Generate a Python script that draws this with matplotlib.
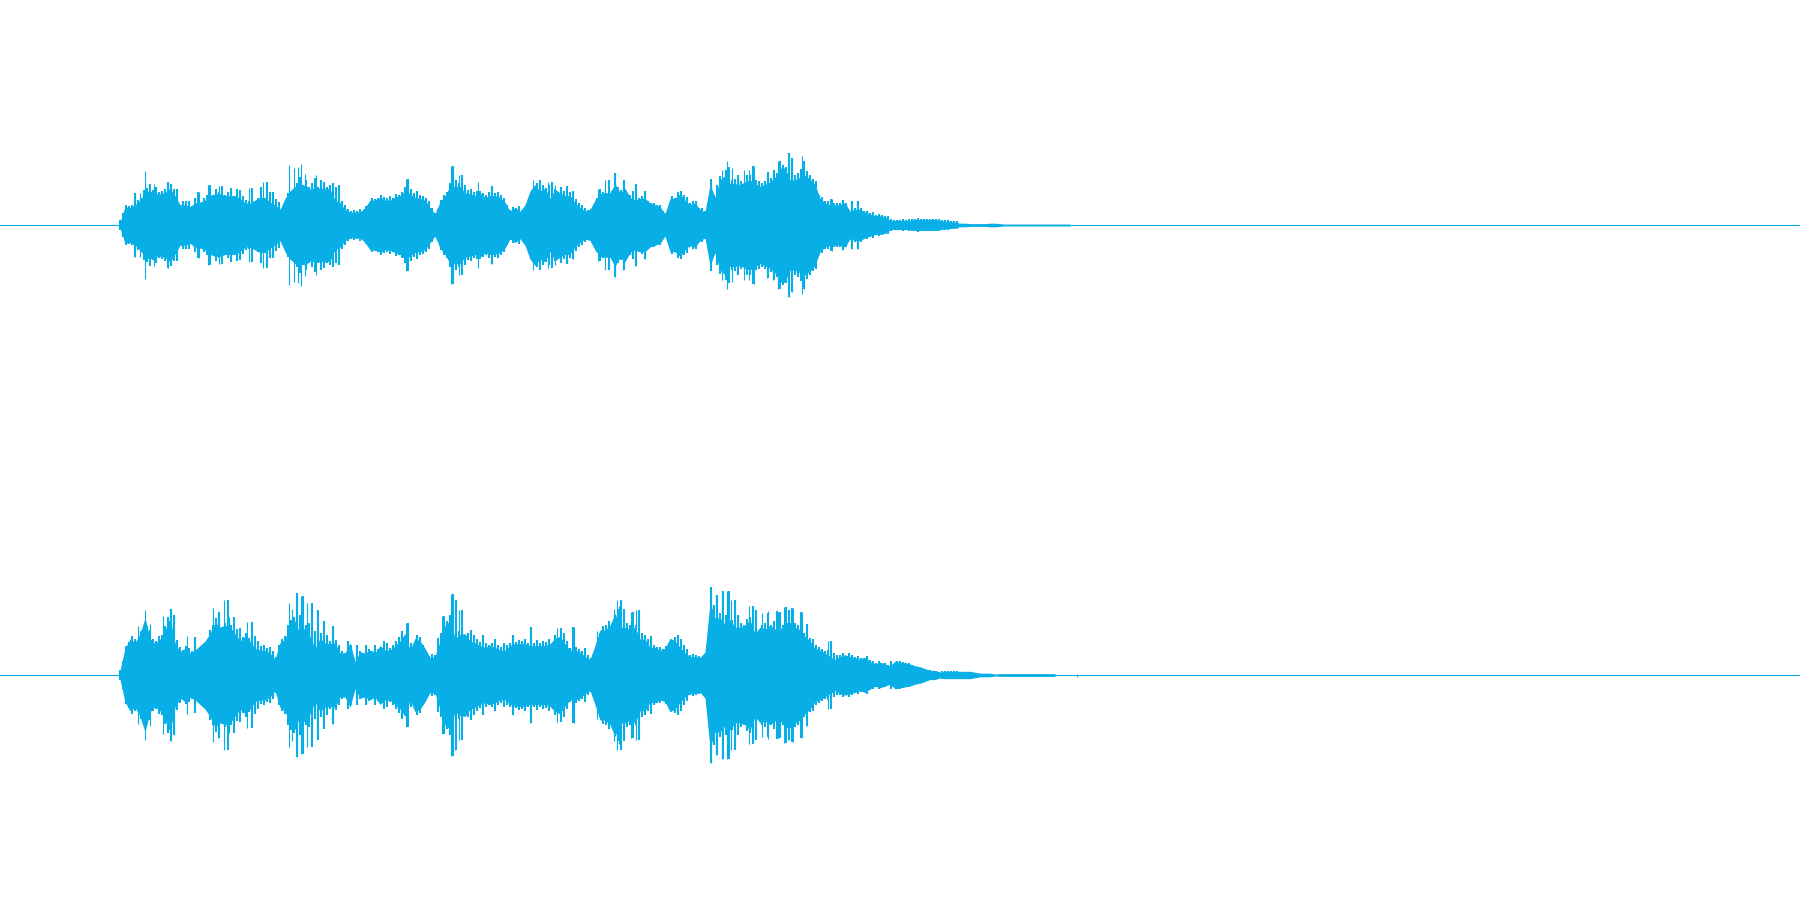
import matplotlib
matplotlib.use("Agg")
import matplotlib.pyplot as plt
import numpy as np

# waveform levels, one value every 5 time units from t=120
left_peaks = [3, 20, 19, 22, 27, 35, 37, 34, 34, 35, 40, 32, 22, 22, 20, 24, 25, 27, 32, 34, 34, 32, 32, 32, 29,
              24, 24, 27, 30, 30, 25, 22, 17, 29, 37, 42, 40, 44, 39, 40, 40, 40, 39, 27, 24, 17, 14, 14, 14, 19,
              27, 27, 30, 27, 27, 30, 32, 37, 34, 30, 29, 27, 19, 12, 25, 32, 42, 42, 42, 35, 34, 32, 35, 30, 32,
              32, 30, 25, 15, 19, 15, 22, 37, 44, 37, 40, 29, 39, 35, 32, 32, 24, 19, 15, 17, 27,
              34, 35, 35, 45, 35, 40, 30, 27, 29, 29, 24, 22, 20, 12, 29, 29, 34, 27, 22, 24, 17, 14, 44, 30,
              49, 54, 45, 45, 44, 47, 49, 45, 42, 44, 47, 52, 62, 62, 49, 49, 52, 54, 50, 44, 29, 24, 22, 22, 22,
              24, 15, 17, 17, 14, 12, 10, 10, 9, 5, 5, 5, 5, 5, 6, 6, 6, 6, 6, 5, 4, 4, 3, 2, 2, 1.5, 1.5, 1.5,
              1.5, 2, 2, 1.5, 1, 1, 1, 1, 1, 1, 1, 1, 1, 1, 1, 1, 1, 1]
right_peaks = [5, 29, 39, 35, 45, 62, 40, 34, 39, 49, 62, 35, 25, 29, 24, 27, 32, 37, 45, 57, 52, 54, 52, 45, 37,
               42, 37, 29, 27, 27, 24, 17, 35, 39, 55, 59, 44, 52, 42, 29, 40, 35, 34, 35, 24, 24, 35, 15, 25, 24,
               27, 24, 32, 27, 27, 32, 37, 45, 27, 40, 37, 29, 19, 20, 37, 54, 59, 40, 44, 45, 37, 35, 32, 30, 32,
               30, 27, 27, 32, 34, 34, 34, 32, 32, 32, 32, 34, 40, 42, 34, 27, 27, 25, 20, 17, 32,
               49, 49, 54, 67, 52, 52, 49, 52, 39, 39, 30, 30, 27, 29, 40, 37, 30, 24, 20, 20, 19, 25, 79, 62,
               62, 55, 60, 52, 52, 54, 60, 45, 52, 50, 54, 50, 49, 57, 57, 52, 49, 42, 37, 29, 27, 24, 20, 17, 20,
               22, 20, 19, 17, 19, 15, 12, 14, 12, 10, 15, 14, 13, 12, 10, 9, 7, 5, 5, 3, 4, 4, 4, 4, 4, 4, 3, 2,
               2, 2, 1, 1.5, 1.5, 1.5, 1.5, 1.5, 1.5, 1.5, 1.5, 1.5, 1.5, 1.5, 1.5]

# finer jagged tops, one value every 3 time units from t=120
left_fine = [5, 12, 20, 19, 20, 32, 25, 27, 35, 37,
             41, 35, 38, 33, 34, 36, 43, 41, 36, 36,
             18, 24, 24, 24, 19, 27, 33, 22, 27, 30,
             40, 30, 36, 33, 39, 30, 33, 37, 27, 36,
             35, 29, 25, 24, 37, 16, 27, 38, 27, 43,
             33, 33, 26, 23, 16, 19, 32, 27, 36, 42,
             48, 40, 45, 38, 42, 47, 38, 45, 43, 38,
             40, 42, 38, 40, 24, 20, 16, 14, 15, 14,
             16, 14, 19, 16, 27, 26, 27, 30, 28, 27,
             29, 27, 31, 30, 33, 38, 46, 36, 32, 34,
             30, 29, 27, 24, 17, 12, 16, 25, 30, 33,
             42, 59, 45, 42, 50, 40, 35, 36, 33, 34,
             34, 32, 30, 33, 39, 32, 33, 30, 27, 20,
             15, 18, 17, 19, 14, 17, 22, 32, 38, 42,
             45, 40, 37, 40, 43, 36, 29, 38, 34, 39,
             33, 34, 26, 22, 20, 17, 15, 16, 18, 27,
             36, 33, 32, 45, 34, 52, 38, 35, 45, 32,
             30, 34, 41, 27, 29, 34, 24, 22, 22, 20,
             20, 14, 12, 18, 29, 27, 33, 34, 30, 28,
             22, 24, 24, 17, 17, 14, 22, 46, 30, 40,
             49, 42, 55, 58, 45, 46, 50, 44, 40, 50,
             50, 59, 45, 44, 42, 44, 53, 47, 55, 52,
             64, 60, 58, 72, 67, 50, 52, 56, 64, 54,
             50, 46, 44, 30, 28, 24, 24, 26, 22, 22,
             22, 25, 22, 15, 24, 17, 24, 17, 14, 14,
             12, 13, 10, 11, 10, 9, 9, 6, 5, 5,
             5, 6, 5, 6, 6, 6, 7, 6, 6, 6,
             6, 6, 6, 6, 5, 5, 5, 4, 4, 4]
right_fine = [5, 14, 29, 33, 39, 36, 35, 44, 40, 49,
              45, 36, 34, 39, 40, 49, 58, 66, 60, 35,
              28, 25, 29, 27, 24, 38, 24, 27, 30, 33,
              45, 50, 57, 63, 48, 52, 75, 50, 58, 46,
              47, 38, 42, 37, 53, 39, 34, 29, 30, 27,
              28, 24, 18, 30, 36, 39, 50, 55, 58, 82,
              60, 79, 50, 52, 72, 44, 65, 42, 54, 40,
              34, 49, 35, 30, 24, 22, 34, 30, 17, 30,
              24, 22, 30, 26, 24, 30, 26, 28, 34, 32,
              27, 30, 34, 38, 44, 37, 52, 32, 28, 40,
              38, 30, 24, 19, 21, 20, 37, 42, 59, 54,
              60, 81, 75, 44, 65, 38, 42, 45, 40, 36,
              33, 40, 32, 30, 32, 36, 30, 28, 32, 30,
              32, 40, 33, 35, 34, 36, 32, 48, 32, 35,
              32, 34, 33, 36, 31, 40, 37, 47, 42, 34,
              27, 48, 28, 26, 24, 27, 20, 17, 22, 32,
              42, 49, 50, 54, 48, 60, 66, 75, 66, 52,
              50, 63, 50, 65, 42, 40, 36, 39, 30, 28,
              28, 26, 29, 24, 34, 38, 40, 36, 30, 26,
              20, 21, 20, 19, 18, 19, 24, 88, 70, 80,
              62, 84, 60, 84, 55, 75, 60, 52, 50, 56,
              58, 69, 65, 45, 50, 52, 62, 50, 54, 64,
              63, 50, 68, 65, 67, 52, 50, 63, 42, 51,
              37, 36, 30, 28, 26, 24, 25, 34, 22, 20,
              20, 22, 19, 22, 20, 18, 19, 17, 17, 19,
              15, 14, 12, 14, 12, 12, 10, 14, 11, 14,
              14, 13, 12, 12, 10, 9, 8, 7, 6, 5,
              5, 4, 4, 3, 4, 4, 4, 4, 4, 4]

# isolated tall peaks
left_spike_t = [135, 140, 145, 154, 168, 199, 208, 219, 249, 263, 289, 294, 298, 301, 305, 316, 406, 451, 453, 459,
                478, 492, 533, 548, 555, 573, 598, 605, 615, 623, 635, 645, 722, 727, 732, 744, 749, 754, 767, 773,
                778, 789, 792, 802, 804, 832, 842, 851, 857]
left_spike_a = [32, 32, 54, 41, 43, 33, 40, 39, 37, 43, 60, 57, 58, 61, 51, 50, 46, 59, 52, 50,
                43, 39, 45, 43, 40, 34, 36, 45, 52, 45, 41, 34, 55, 64, 57, 55, 55, 59, 53, 55,
                64, 72, 67, 69, 64, 26, 25, 24, 24]
right_spike_t = [138, 145, 150, 163, 171, 174, 187, 213, 218, 224, 229, 247, 289, 292, 297, 301, 307, 312, 317, 333,
                 406, 442, 451, 455, 459, 513, 530, 557, 574, 597, 614, 617, 619, 624, 631, 636, 711, 716, 722, 727,
                 731, 749, 753, 762, 768, 778, 784, 789, 793, 802, 807, 828, 1077]
right_spike_a = [49, 65, 51, 59, 66, 60, 39, 67, 63, 75, 58, 53, 72, 66, 82, 79, 72, 65, 54, 49,
                 52, 59, 81, 75, 65, 40, 48, 47, 48, 44, 66, 75, 69, 63, 63, 65, 88, 80, 84, 84,
                 75, 69, 65, 62, 64, 63, 68, 65, 67, 63, 51, 34, 1.5]

color = "#08AEE6"

fig, axes = plt.subplots(2, 1, figsize=(18, 9), dpi=100)
fig.subplots_adjust(left=0, right=1, top=1, bottom=0, hspace=0)

channels = [(left_peaks, left_fine, left_spike_t, left_spike_a),
            (right_peaks, right_fine, right_spike_t, right_spike_a)]
for ax, (peaks, fine, spike_t, spike_a) in zip(axes, channels):
    t = 120 + 5 * np.arange(len(peaks))
    t_fine = 120 + 3 * np.arange(len(fine))
    peaks = np.array(peaks, dtype=float)
    fine = np.array(fine, dtype=float)
    # solid core sits a little under the readings, the jagged top comes from the bars
    ax.plot([0, 1800], [0, 0], color=color, lw=0.8)
    ax.fill_between(t, -0.92 * peaks, 0.92 * peaks, color=color, lw=0)
    ax.vlines(t_fine, -fine, fine, color=color, lw=1.5)
    ax.vlines(spike_t, -np.array(spike_a), spike_a, color=color, lw=0.8)
    ax.set_xlim(0, 1800)
    ax.set_ylim(-225, 225)
    ax.axis("off")

fig.savefig("out.png", dpi=100)
